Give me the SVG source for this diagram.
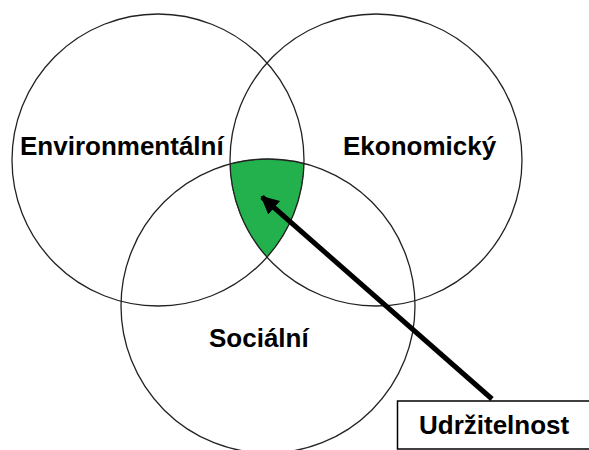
<svg xmlns="http://www.w3.org/2000/svg" width="589" height="450" viewBox="0 0 589 450">
<defs>
<style>
.c{fill:none;stroke:#222;stroke-width:1.3}
.t{font-family:"Liberation Sans",Arial,sans-serif;font-weight:bold;font-size:26px;fill:#000}
</style>
<marker id="ah" viewBox="0 0 10 10" refX="9" refY="5" markerWidth="3.6" markerHeight="3.6" orient="auto" markerUnits="strokeWidth">
<path d="M0,0 L10,5 L0,10 Z" fill="#000"/>
</marker>
</defs>
<rect width="589" height="450" fill="#fff"/>
<g id="sustainability">
<path d="M230,164 A147,147 0 0 1 304,163.5 A146,146 0 0 1 267,257 A146,146 0 0 1 230,164 Z" fill="#22b14c" stroke="#444" stroke-width="1" stroke-dasharray="2,1"/>
</g>
<g id="environmental">
<circle class="c" cx="158" cy="160" r="146"/>
<text class="t" x="20" y="155">Environmentální</text>
</g>
<g id="economic">
<circle class="c" cx="376" cy="160" r="146"/>
<text class="t" x="343" y="155">Ekonomický</text>
</g>
<g id="social">
<circle class="c" cx="268" cy="306" r="147"/>
<text class="t" x="209" y="347">Sociální</text>
</g>
<g id="label">
<rect x="397.5" y="401" width="200" height="48" fill="#fff" stroke="#000" stroke-width="1.5"/>
<text class="t" x="419" y="434">Udržitelnost</text>
</g>
<g id="connectors">
<line x1="492" y1="399" x2="262" y2="197" stroke="#000" stroke-width="5" marker-end="url(#ah)"/>
</g>
</svg>
